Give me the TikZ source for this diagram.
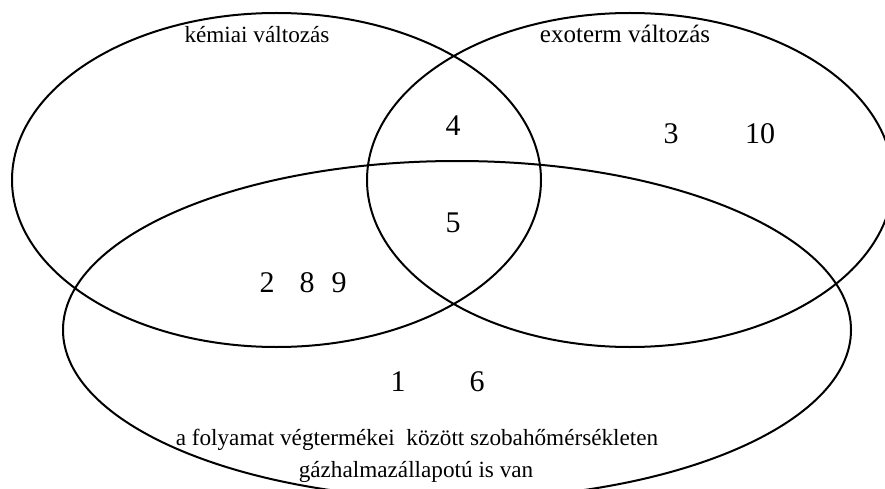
\documentclass[tikz,border=0pt]{standalone}
\usepackage{fontspec}
\setmainfont{Liberation Serif}
\usetikzlibrary{shapes.geometric}
\begin{document}
\begin{tikzpicture}[x=1pt,y=-1pt,
  setbox/.style={draw=black, line width=2pt, ellipse, inner sep=0pt, fill=none},
  lbl/.style={font=\fontsize{23.2}{27}\selectfont, inner sep=0pt, anchor=base},
  num/.style={font=\fontsize{30}{34}\selectfont, inner sep=0pt}]
\useasboundingbox (0,0) rectangle (885,489);
\clip (0,0) rectangle (885,489);
\node[setbox, minimum width=529pt, minimum height=334pt] (kem) at (276.5,180) {};
\node[setbox, minimum width=526pt, minimum height=334pt] (exo) at (630,180) {};
\node[setbox, minimum width=788pt, minimum height=338pt] (gaz) at (457,330) {};
\node[lbl] (tkem) at (257,43) {kémiai változás};
\node[lbl, font=\fontsize{25}{29}\selectfont] (texo) at (625,43) {exoterm változás};
\node[lbl] (tgaz1) at (417,445) {a folyamat végtermékei\ \ között szobahőmérsékleten};
\node[lbl] (tgaz2) at (416,477) {gázhalmazállapotú is van};
\node[num] (n4) at (453,126) {4};
\node[num] (n5) at (453,223) {5};
\node[num] (n3) at (671,134) {3};
\node[num] (n10) at (760,134) {10};
\node[num] (n2) at (267,283) {2};
\node[num] (n8) at (307,283) {8};
\node[num] (n9) at (339,283) {9};
\node[num] (n1) at (398,382) {1};
\node[num] (n6) at (477,382) {6};
\end{tikzpicture}
\end{document}
